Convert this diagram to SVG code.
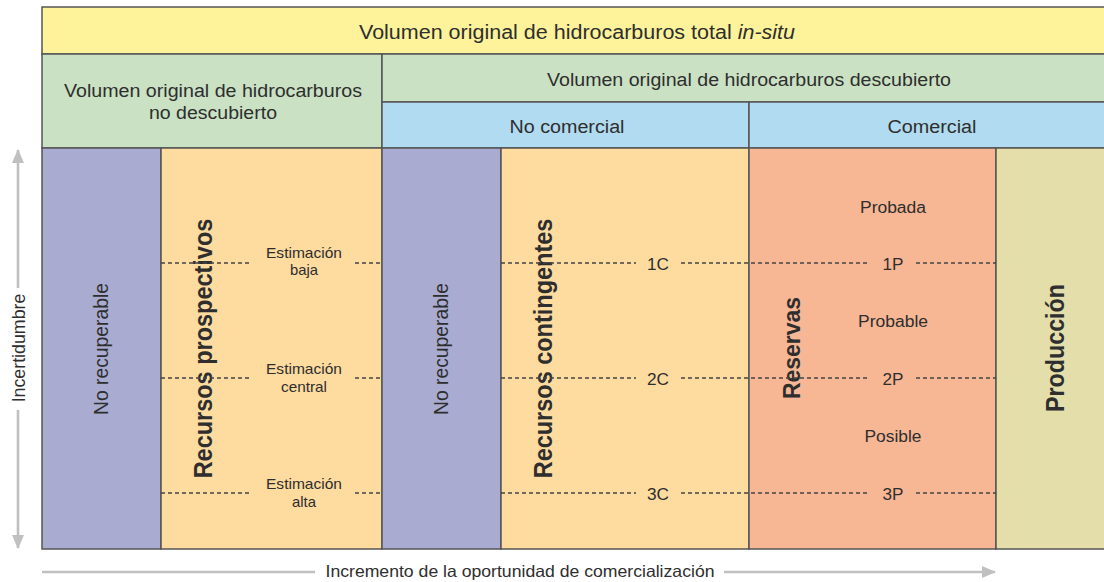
<svg xmlns="http://www.w3.org/2000/svg" width="1104" height="582" viewBox="0 0 1104 582">
<style>
.t{font-family:"Liberation Sans",Arial,sans-serif;fill:#2e2e2e;text-anchor:middle}
.b{stroke:#555;stroke-width:1.5}
.d{stroke:#444;stroke-width:1.3;stroke-dasharray:4 3;fill:none}
.ar{stroke:#c0c0c0;stroke-width:2.6;fill:none}
.bold{font-weight:bold}
</style>
<defs>
<marker id="ah" viewBox="0 0 14 12" refX="13" refY="6" markerUnits="userSpaceOnUse" markerWidth="14" markerHeight="12" orient="auto"><path d="M0,0L14,6L0,12z" fill="#c0c0c0"/></marker>
</defs>
<rect width="1104" height="582" fill="#fff"/>
<g id="total">
<rect class="b" x="42" y="7" width="1070" height="47" fill="#FEF39A"/>
<text class="t" x="577" y="39" font-size="19.5" textLength="436" lengthAdjust="spacingAndGlyphs">Volumen original de hidrocarburos total <tspan font-style="italic">in-situ</tspan></text>
</g>
<g id="no-descubierto">
<rect class="b" x="42" y="54" width="340" height="94" fill="#CAE1C4"/>
<text class="t" x="213" y="97" font-size="18" textLength="298" lengthAdjust="spacingAndGlyphs">Volumen original de hidrocarburos</text>
<text class="t" x="213" y="119" font-size="18" textLength="128" lengthAdjust="spacingAndGlyphs">no descubierto</text>
</g>
<g id="descubierto">
<rect class="b" x="382" y="54" width="730" height="48" fill="#CAE1C4"/>
<text class="t" x="749" y="86" font-size="18" textLength="404" lengthAdjust="spacingAndGlyphs">Volumen original de hidrocarburos descubierto</text>
</g>
<g id="no-comercial">
<rect class="b" x="382" y="102" width="367" height="46" fill="#B1DBF0"/>
<text class="t" x="567" y="133" font-size="18" textLength="115" lengthAdjust="spacingAndGlyphs">No comercial</text>
</g>
<g id="comercial">
<rect class="b" x="749" y="102" width="363" height="46" fill="#B1DBF0"/>
<text class="t" x="932" y="133" font-size="18" textLength="89" lengthAdjust="spacingAndGlyphs">Comercial</text>
</g>
<g id="no-recuperable-1">
<rect class="b" x="42" y="148" width="119" height="401" fill="#A9ABD0"/>
<text class="t" font-size="19.3" transform="translate(108,349) rotate(-90)">No recuperable</text>
</g>
<g id="recursos-prospectivos">
<rect class="b" x="161" y="148" width="221" height="401" fill="#FEDB9F"/>
<text class="t bold" font-size="23.5" transform="translate(212,348.5) scale(1.08,1) rotate(-90)">Recursos prospectivos</text>
</g>
<g id="no-recuperable-2">
<rect class="b" x="382" y="148" width="119" height="401" fill="#A9ABD0"/>
<text class="t" font-size="19.3" transform="translate(448,349) rotate(-90)">No recuperable</text>
</g>
<g id="recursos-contingentes">
<rect class="b" x="501" y="148" width="248" height="401" fill="#FEDB9F"/>
<text class="t bold" font-size="23.5" transform="translate(552,348.5) scale(1.08,1) rotate(-90)">Recursos contingentes</text>
</g>
<g id="reservas">
<rect class="b" x="749" y="148" width="247" height="401" fill="#F7B794"/>
<text class="t bold" font-size="23" transform="translate(800,348) scale(1.08,1) rotate(-90)">Reservas</text>
</g>
<g id="produccion">
<rect class="b" x="996" y="148" width="116" height="401" fill="#E4DEAA"/>
<text class="t bold" font-size="23.3" transform="translate(1064,348) scale(1.08,1) rotate(-90)">Producción</text>
</g>
<g id="connectors">
<path class="d" d="M161,263H252M355,263H382M161,378H252M355,378H382M161,493H252M355,493H382"/>
<path class="d" d="M501,263H636M681,263H870M916,263H996M501,378H636M681,378H870M916,378H996M501,493H636M681,493H870M916,493H996"/>
<path class="ar" d="M18,288V150" marker-end="url(#ah)"/>
<path class="ar" d="M18,410V548" marker-end="url(#ah)"/>
<path class="ar" d="M42,572H315"/>
<path class="ar" d="M724,572H995" marker-end="url(#ah)"/>
</g>
<g id="labels">
<text class="t" x="304" y="258" font-size="14.2" textLength="76" lengthAdjust="spacingAndGlyphs">Estimación</text>
<text class="t" x="304" y="275" font-size="14.2" textLength="28" lengthAdjust="spacingAndGlyphs">baja</text>
<text class="t" x="304" y="374" font-size="14.2" textLength="76" lengthAdjust="spacingAndGlyphs">Estimación</text>
<text class="t" x="304" y="392" font-size="14.2" textLength="46" lengthAdjust="spacingAndGlyphs">central</text>
<text class="t" x="304" y="489" font-size="14.2" textLength="76" lengthAdjust="spacingAndGlyphs">Estimación</text>
<text class="t" x="304" y="507" font-size="14.2" textLength="24" lengthAdjust="spacingAndGlyphs">alta</text>
<text class="t" x="658" y="270" font-size="16.5" textLength="22" lengthAdjust="spacingAndGlyphs">1C</text>
<text class="t" x="658" y="385" font-size="16.5" textLength="22" lengthAdjust="spacingAndGlyphs">2C</text>
<text class="t" x="658" y="500" font-size="16.5" textLength="22" lengthAdjust="spacingAndGlyphs">3C</text>
<text class="t" x="893" y="270" font-size="16.5" textLength="21" lengthAdjust="spacingAndGlyphs">1P</text>
<text class="t" x="893" y="385" font-size="16.5" textLength="21" lengthAdjust="spacingAndGlyphs">2P</text>
<text class="t" x="893" y="500" font-size="16.5" textLength="21" lengthAdjust="spacingAndGlyphs">3P</text>
<text class="t" x="893" y="213" font-size="16" textLength="66" lengthAdjust="spacingAndGlyphs">Probada</text>
<text class="t" x="893" y="327" font-size="16" textLength="70" lengthAdjust="spacingAndGlyphs">Probable</text>
<text class="t" x="893" y="442" font-size="16" textLength="57" lengthAdjust="spacingAndGlyphs">Posible</text>
<text class="t" font-size="17.8" transform="translate(25,348) rotate(-90)">Incertidumbre</text>
<text class="t" x="520" y="577" font-size="16.5" textLength="389" lengthAdjust="spacingAndGlyphs">Incremento de la oportunidad de comercialización</text>
</g>
</svg>
